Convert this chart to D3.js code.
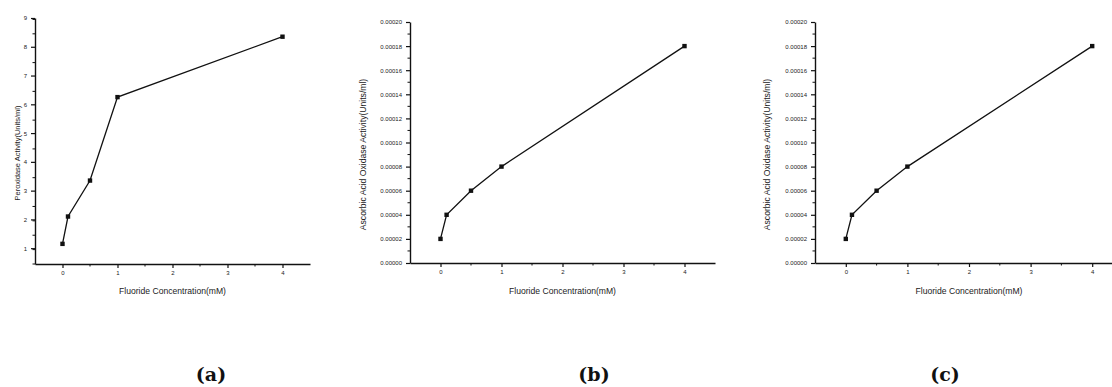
<!DOCTYPE html>
<html>
<head>
<meta charset="utf-8">
<script src="https://cdn.jsdelivr.net/npm/d3@7"></script>
<style>
  body { margin: 0; background: #fff; }
  svg { display: block; }
  .tick-label { font-family: "Liberation Sans", Arial, sans-serif; fill: #222; }
  .axis-title { font-family: "Liberation Sans", Arial, sans-serif; fill: #222; }
  .panel-label { font-family: "DejaVu Serif", "Liberation Serif", serif; font-weight: bold; fill: #111; }
</style>
</head>
<body>
<div id="chart"></div>
<script>
// data
const concentration = [0, 0.1, 0.5, 1, 4];
const peroxidase = [1.15, 2.1, 3.35, 6.25, 8.35];
const ascorbateB = [0.00002, 0.00004, 0.00006, 0.00008, 0.00018];
const ascorbateC = [0.00002, 0.00004, 0.00006, 0.00008, 0.00018];
const xTicks = [0, 1, 2, 3, 4];
const yTicksA = [1, 2, 3, 4, 5, 6, 7, 8, 9];
const yTicksB = [0, 0.00002, 0.00004, 0.00006, 0.00008, 0.0001, 0.00012, 0.00014, 0.00016, 0.00018, 0.0002];
const panelLabels = ["(a)", "(b)", "(c)"];
const xTitle = "Fluoride Concentration(mM)";
const yTitles = ["Peroxidase Activity(Units/ml)", "Ascorbic Acid Oxidase Activity(Units/ml)", "Ascorbic Acid Oxidase Activity(Units/ml)"];

const WIDTH = 1112;
const HEIGHT = 387;

const panels = [
    {left: 35, right: 310, top: 18, bottom: 264, yDomain: [0.45, 9], yTicks: yTicksA, yMinorStep: 0.5,
     fmt: d3.format("d"), values: peroxidase, titleX: 17, titleSize: 7.5, tickSize: 6, labelX: 211},
    {left: 410, right: 715, top: 22, bottom: 263, yDomain: [0, 0.0002], yTicks: yTicksB, yMinorStep: 0.00001,
     fmt: d3.format(".5f"), values: ascorbateB, titleX: 363, titleSize: 8.6, tickSize: 6, labelX: 594},
    {left: 815, right: 1123, top: 22, bottom: 263, yDomain: [0, 0.0002], yTicks: yTicksB, yMinorStep: 0.00001,
     fmt: d3.format(".5f"), values: ascorbateC, titleX: 767, titleSize: 8.6, tickSize: 6, labelX: 945}
];

const svg = d3.select("#chart")
    .append("svg")
    .attr("width", WIDTH)
    .attr("height", HEIGHT);

panels.forEach((p, i) => {
    const xScale = d3.scaleLinear().domain([-0.5, 4.5]).range([p.left, p.right]);
    const yScale = d3.scaleLinear().domain(p.yDomain).range([p.bottom, p.top]);

    const g = svg.append("g");

    // x axis with minor ticks
    const xMinor = d3.range(-0.5, 4.51, 0.5).filter(v => !xTicks.includes(v) && v > -0.5 && v < 4.5);
    const xAxis = g.append("g").attr("transform", `translate(0,${p.bottom})`);
    xAxis.call(d3.axisBottom(xScale).tickValues(xTicks).tickSize(4).tickSizeOuter(0).tickPadding(3).tickFormat(d3.format("d")));
    xAxis.append("g").selectAll("line")
        .data(xMinor)
        .join("line")
        .attr("x1", d => xScale(d)).attr("x2", d => xScale(d))
        .attr("y1", 0).attr("y2", 2.5)
        .attr("stroke", "#111");

    // y axis with minor ticks
    const yMinor = d3.range(p.yDomain[0], p.yDomain[1] + p.yMinorStep / 2, p.yMinorStep)
        .filter(v => !p.yTicks.some(t => Math.abs(t - v) < p.yMinorStep / 10));
    const yAxis = g.append("g").attr("transform", `translate(${p.left},0)`);
    yAxis.call(d3.axisLeft(yScale).tickValues(p.yTicks).tickSize(4).tickSizeOuter(0).tickPadding(4).tickFormat(p.fmt));
    yAxis.append("g").selectAll("line")
        .data(yMinor)
        .join("line")
        .attr("x1", 0).attr("x2", -2.5)
        .attr("y1", d => yScale(d)).attr("y2", d => yScale(d))
        .attr("stroke", "#111");

    [xAxis, yAxis].forEach(a => {
        a.select(".domain").attr("stroke", "#111").attr("stroke-width", 1.4);
        a.selectAll(".tick line").attr("stroke", "#111").attr("stroke-width", 1.2);
        a.selectAll(".tick text").attr("class", "tick-label").attr("font-size", p.tickSize).attr("fill", "#222");
    });

    // axis titles
    g.append("text")
        .attr("class", "axis-title")
        .attr("x", (xScale(0) + xScale(4)) / 2)
        .attr("y", 294)
        .attr("text-anchor", "middle")
        .attr("font-size", 8.6)
        .text(xTitle);

    g.append("text")
        .attr("class", "axis-title")
        .attr("transform", `translate(${p.titleX},${(p.top + p.bottom) / 2 + 12}) rotate(-90)`)
        .attr("text-anchor", "middle")
        .attr("dominant-baseline", "central")
        .attr("font-size", p.titleSize)
        .text(yTitles[i]);

    // line and markers
    const points = concentration.map((c, j) => ({x: c, y: p.values[j]}));
    g.append("path")
        .datum(points)
        .attr("fill", "none")
        .attr("stroke", "#111")
        .attr("stroke-width", 1.3)
        .attr("d", d3.line().x(d => xScale(d.x)).y(d => yScale(d.y)));

    g.selectAll("rect.marker")
        .data(points)
        .join("rect")
        .attr("class", "marker")
        .attr("x", d => xScale(d.x) - 2.2)
        .attr("y", d => yScale(d.y) - 2.2)
        .attr("width", 4.4)
        .attr("height", 4.4)
        .attr("fill", "#111");

    // panel label
    g.append("text")
        .attr("class", "panel-label")
        .attr("x", p.labelX)
        .attr("y", 381)
        .attr("text-anchor", "middle")
        .attr("font-size", 19)
        .text(panelLabels[i]);
});
</script>
</body>
</html>
